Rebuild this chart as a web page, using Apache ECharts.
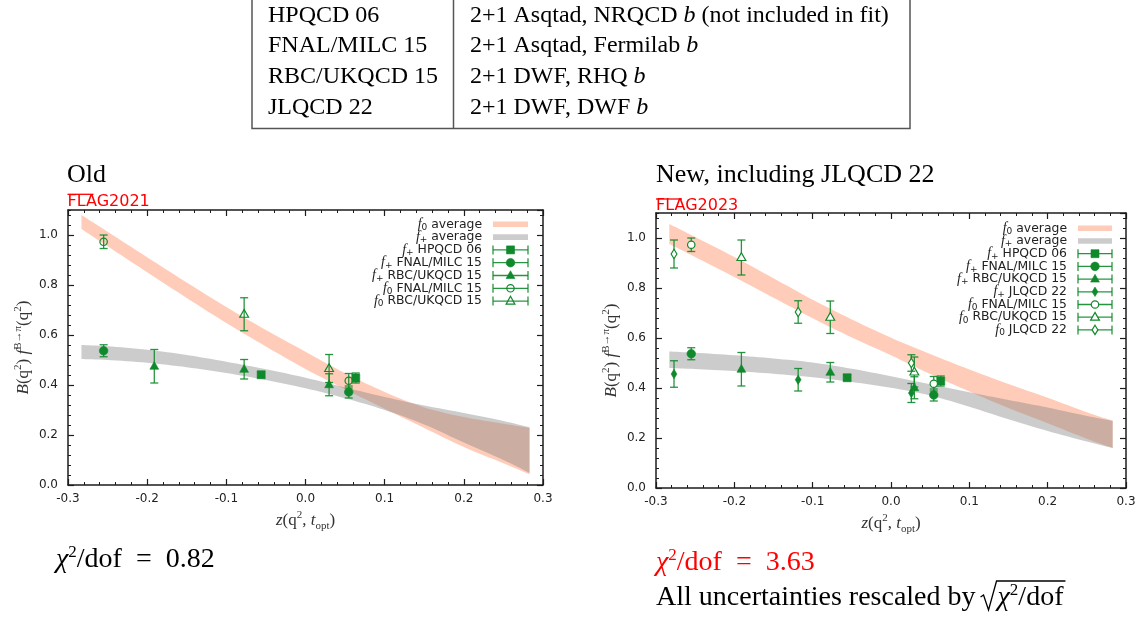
<!DOCTYPE html>
<html>
<head>
<meta charset="utf-8">
<script src="https://cdn.jsdelivr.net/npm/echarts@6/dist/echarts.min.js"></script>
<style>
  html, body { margin: 0; padding: 0; background: #fff; }
  #chart { width: 1144px; height: 619px; }
</style>
</head>
<body>
<div id="chart"></div>
<script>
// ---- z positions of the lattice data points ----
const zHpqcd = [-0.056, 0.0635];
const zFnal = [-0.255, 0.0546];
const zRbc = [-0.191, -0.0775, 0.0298];
const zRbcF0Old = [-0.0775, 0.0298];
const zJlqcd = [-0.277, -0.1185, 0.026];

// ---- f+ form factor points (value, error) ----
const fpHpqcd = [0.441, 0.428];
const fpHpqcdErr = [0.011, 0.020];
const fpFnal = [0.537, 0.372];
const fpFnalErr = [0.024, 0.024];
const fpRbc = [0.475, 0.463, 0.401];
const fpRbcErr = [0.067, 0.039, 0.044];
const fpJlqcd = [0.456, 0.433, 0.380];
const fpJlqcdErr = [0.053, 0.045, 0.038];

// ---- f0 form factor points (value, error) ----
const f0Fnal = [0.973, 0.417];
const f0FnalErr = [0.027, 0.029];
const f0RbcOld = [0.683, 0.466];
const f0RbcOldErr = [0.066, 0.056];
const f0Rbc = [0.922, 0.683, 0.464];
const f0RbcErr = [0.070, 0.065, 0.060];
const f0Jlqcd = [0.936, 0.704, 0.500];
const f0JlqcdErr = [0.056, 0.045, 0.033];

// ---- averaged bands (lower / upper edge at each bandZ) ----
const bandZ = [-0.283, -0.25, -0.2, -0.15, -0.1, -0.05, 0, 0.05, 0.1, 0.15, 0.2, 0.25, 0.283];
const oldF0Lo = [1.024, 0.955, 0.851, 0.748, 0.648, 0.554, 0.464, 0.383, 0.305, 0.228, 0.152, 0.087, 0.043];
const oldF0Hi = [1.080, 1.013, 0.911, 0.810, 0.712, 0.620, 0.533, 0.447, 0.372, 0.310, 0.272, 0.245, 0.228];
const oldFpLo = [0.504, 0.500, 0.489, 0.471, 0.448, 0.420, 0.387, 0.347, 0.300, 0.242, 0.170, 0.100, 0.048];
const oldFpHi = [0.560, 0.555, 0.541, 0.520, 0.493, 0.463, 0.429, 0.390, 0.352, 0.318, 0.288, 0.256, 0.231];
const newF0Lo = [0.976, 0.924, 0.844, 0.761, 0.679, 0.602, 0.531, 0.456, 0.386, 0.320, 0.259, 0.197, 0.160];
const newF0Hi = [1.056, 1.004, 0.924, 0.839, 0.753, 0.674, 0.601, 0.536, 0.474, 0.416, 0.361, 0.303, 0.269];
const newFpLo = [0.480, 0.476, 0.468, 0.457, 0.443, 0.424, 0.401, 0.370, 0.325, 0.275, 0.228, 0.186, 0.160];
const newFpHi = [0.546, 0.541, 0.531, 0.518, 0.502, 0.477, 0.447, 0.415, 0.383, 0.352, 0.322, 0.288, 0.269];

// ---- text ----
const tableLeft = ['HPQCD 06', 'FNAL/MILC 15', 'RBC/UKQCD 15', 'JLQCD 22'];
const tableRight = [
  '2+1 Asqtad, NRQCD {i|b} (not included in fit)',
  '2+1 Asqtad, Fermilab {i|b}',
  '2+1 DWF, RHQ {i|b}',
  '2+1 DWF, DWF {i|b}'
];
const xTickFmt = v => (Math.abs(v) < 1e-9 ? '0.0' : v.toFixed(1));

// ---- styling ----
const GREEN = '#0f892b';
const BAR = 'rgba(15,137,43,0.9)';
const F0_FILL = 'rgba(255,127,80,0.4)';
const FP_FILL = 'rgba(128,128,128,0.4)';
const AXIS = '#1c1c1c';
const TXT = '#222';
const SERIF = '"Liberation Serif", "Times New Roman", serif';
const SANS = '"DejaVu Sans", sans-serif';

const chart = echarts.init(document.getElementById('chart'), null, { renderer: 'canvas' });

function measure(text, font) {
  if (!measure.ctx) measure.ctx = document.createElement('canvas').getContext('2d');
  measure.ctx.font = font;
  return measure.ctx.measureText(text).width;
}

// smooth pixel-space curve through the projected edge points (Catmull-Rom)
function smoothEdge(pts, steps) {
  const out = [];
  const n = pts.length;
  for (let i = 0; i < n - 1; i++) {
    const p0 = pts[Math.max(i - 1, 0)], p1 = pts[i], p2 = pts[i + 1], p3 = pts[Math.min(i + 2, n - 1)];
    for (let s = 0; s < steps; s++) {
      const t = s / steps, t2 = t * t, t3 = t2 * t;
      const c = k => 0.5 * (2 * p1[k] + (p2[k] - p0[k]) * t + (2 * p0[k] - 5 * p1[k] + 4 * p2[k] - p3[k]) * t2 +
        (3 * p1[k] - p0[k] - 3 * p2[k] + p3[k]) * t3);
      out.push([c(0), c(1)]);
    }
  }
  out.push(pts[n - 1]);
  return out;
}

// marker glyph centred at (cx, cy); open markers get an outline only
function markerShape(kind, open, cx, cy, openFill) {
  const style = open
    ? { fill: openFill, stroke: GREEN, lineWidth: 1.2 }
    : { fill: GREEN, stroke: GREEN, lineWidth: 0.6 };
  if (kind === 'circle') return { type: 'circle', shape: { cx, cy, r: open ? 3.7 : 4.3 }, style };
  if (kind === 'square') return { type: 'rect', shape: { x: cx - 4, y: cy - 4, width: 8, height: 8 }, style };
  if (kind === 'triangle') return { type: 'polygon', shape: { points: [[cx, cy - 4.8], [cx + 4.4, cy + 3], [cx - 4.4, cy + 3]] }, style };
  return { type: 'polygon', shape: { points: [[cx, cy - 4.7], [cx + 2.9, cy], [cx, cy + 4.7], [cx - 2.9, cy]] }, style };
}

// ---- axes: major + minor tick axes on all four sides of each grid ----
const grids = [
  { left: 68, top: 210, width: 475, height: 275, outerBoundsMode: 'none' },
  { left: 656, top: 213, width: 470, height: 275, outerBoundsMode: 'none' }
];
const xAxes = [], yAxes = [];
const nameRich = {
  i: { fontFamily: SERIF, fontStyle: 'italic', fontSize: 17, lineHeight: 22, color: '#333' },
  sup: { fontFamily: SERIF, fontSize: 11, lineHeight: 12, verticalAlign: 'top', color: '#333' },
  sub: { fontFamily: SERIF, fontSize: 11, lineHeight: 12, verticalAlign: 'bottom', color: '#333' }
};
grids.forEach((g, gi) => {
  const common = { gridIndex: gi, type: 'value', splitLine: { show: false }, axisPointer: { show: false } };
  const line = { show: true, onZero: false, lineStyle: { color: AXIS, width: 1.5 } };
  const noLine = { show: false, onZero: false };
  const major = { show: true, inside: true, length: 6, lineStyle: { color: AXIS, width: 1.2 } };
  const minor = { show: true, inside: true, length: 3, lineStyle: { color: AXIS, width: 1 } };
  ['bottom', 'top'].forEach((pos, k) => {
    const ax = { ...common, min: -0.3, max: 0.3, interval: 0.1, position: pos, axisLine: line, axisTick: major,
      axisLabel: { show: false } };
    if (k === 0) {
      ax.axisLabel = { show: true, color: TXT, fontFamily: SANS, fontSize: 12, margin: 8, formatter: xTickFmt,
        showMinLabel: true, showMaxLabel: true };
      ax.name = '{i|z}(q{sup|2}, {i|t}{sub|opt})';
      ax.nameLocation = 'middle';
      ax.nameGap = 25;
      ax.nameTextStyle = { color: '#333', fontFamily: SERIF, fontSize: 17, lineHeight: 22, rich: nameRich };
    }
    xAxes.push(ax);
    xAxes.push({ ...common, min: -0.3, max: 0.3, interval: 0.02, position: pos, axisLine: noLine, axisTick: minor,
      axisLabel: { show: false } });
  });
  ['left', 'right'].forEach((pos, k) => {
    const ax = { ...common, min: 0, max: 1.1, interval: 0.2, position: pos, axisLine: line, axisTick: major,
      axisLabel: { show: false } };
    if (k === 0) {
      ax.axisLabel = { show: true, color: TXT, fontFamily: SANS, fontSize: 12, margin: 10,
        formatter: v => v.toFixed(1), showMaxLabel: false };
      ax.name = '{i|B}(q{sup|2}) {i|f}{sup|B→π}(q{sup|2})';
      ax.nameLocation = 'middle';
      ax.nameRotate = 90;
      ax.nameGap = 24;
      ax.nameTextStyle = { color: '#333', fontFamily: SERIF, fontSize: 17, lineHeight: 22, rich: nameRich };
    }
    yAxes.push(ax);
    yAxes.push({ ...common, min: 0, max: 1.1, interval: 0.04, position: pos, axisLine: noLine, axisTick: minor,
      axisLabel: { show: false } });
  });
});

// ---- series builders ----
function bandSeries(gi, lo, hi, color, z) {
  return {
    type: 'custom', xAxisIndex: gi * 4, yAxisIndex: gi * 4, silent: true, clip: true, z,
    data: [[0, 0]], encode: { x: 0, y: 1 },
    renderItem(params, api) {
      const top = smoothEdge(bandZ.map((zz, i) => api.coord([zz, hi[i]])), 8);
      const bottom = smoothEdge(bandZ.map((zz, i) => api.coord([zz, lo[i]])), 8).reverse();
      return { type: 'polygon', shape: { points: top.concat(bottom) }, style: { fill: color } };
    }
  };
}

function errSeries(gi, zs, ys, es, kind, open, openFill) {
  return {
    type: 'custom', xAxisIndex: gi * 4, yAxisIndex: gi * 4, silent: true, clip: false, z: 5,
    data: zs.map((zz, i) => [zz, ys[i], ys[i] - es[i], ys[i] + es[i]]),
    encode: { x: 0, y: [1, 2, 3] },
    renderItem(params, api) {
      const x = api.value(0);
      const p = api.coord([x, api.value(1)]);
      const lo = api.coord([x, api.value(2)]);
      const hi = api.coord([x, api.value(3)]);
      const w = 4;
      const ls = { stroke: BAR, lineWidth: 1.3 };
      return {
        type: 'group', children: [
          { type: 'line', shape: { x1: p[0], y1: lo[1], x2: p[0], y2: hi[1] }, style: ls },
          { type: 'line', shape: { x1: p[0] - w, y1: lo[1], x2: p[0] + w, y2: lo[1] }, style: ls },
          { type: 'line', shape: { x1: p[0] - w, y1: hi[1], x2: p[0] + w, y2: hi[1] }, style: ls },
          markerShape(kind, open, p[0], p[1], openFill)
        ]
      };
    }
  };
}

// data sets per panel: [form factor, label, z, values, errors, marker, open]
const oldSets = [
  ['+', 'HPQCD 06', zHpqcd, fpHpqcd, fpHpqcdErr, 'square', false],
  ['+', 'FNAL/MILC 15', zFnal, fpFnal, fpFnalErr, 'circle', false],
  ['+', 'RBC/UKQCD 15', zRbc, fpRbc, fpRbcErr, 'triangle', false],
  ['0', 'FNAL/MILC 15', zFnal, f0Fnal, f0FnalErr, 'circle', true],
  ['0', 'RBC/UKQCD 15', zRbcF0Old, f0RbcOld, f0RbcOldErr, 'triangle', true]
];
const newSets = [
  ['+', 'HPQCD 06', zHpqcd, fpHpqcd, fpHpqcdErr, 'square', false],
  ['+', 'FNAL/MILC 15', zFnal, fpFnal, fpFnalErr, 'circle', false],
  ['+', 'RBC/UKQCD 15', zRbc, fpRbc, fpRbcErr, 'triangle', false],
  ['+', 'JLQCD 22', zJlqcd, fpJlqcd, fpJlqcdErr, 'diamond', false],
  ['0', 'FNAL/MILC 15', zFnal, f0Fnal, f0FnalErr, 'circle', true],
  ['0', 'RBC/UKQCD 15', zRbc, f0Rbc, f0RbcErr, 'triangle', true],
  ['0', 'JLQCD 22', zJlqcd, f0Jlqcd, f0JlqcdErr, 'diamond', true]
];
const panels = [
  { sets: oldSets, f0Lo: oldF0Lo, f0Hi: oldF0Hi, fpLo: oldFpLo, fpHi: oldFpHi, openFill: 'none',
    legend: { y0: 224.3, dy: 12.8, textRight: 482, x0: 493, x1: 528 } },
  { sets: newSets, f0Lo: newF0Lo, f0Hi: newF0Hi, fpLo: newFpLo, fpHi: newFpHi, openFill: '#fff',
    legend: { y0: 228.3, dy: 12.7, textRight: 1067, x0: 1078, x1: 1112 } }
];

const series = [];
panels.forEach((pn, gi) => {
  series.push(bandSeries(gi, pn.f0Lo, pn.f0Hi, F0_FILL, 2));
  series.push(bandSeries(gi, pn.fpLo, pn.fpHi, FP_FILL, 3));
  pn.sets.forEach(s => series.push(errSeries(gi, s[2], s[3], s[4], s[5], s[6], pn.openFill)));
});

// ---- drawn legend, text on the left of each sample ----
const legRich = {
  f: { font: `italic 14px ${SERIF}`, lineHeight: 15 },
  s: { font: `9px ${SANS}`, verticalAlign: 'bottom', lineHeight: 10 }
};
const graphics = [];
panels.forEach(pn => {
  const L = pn.legend;
  const rows = [
    { lab: '{f|f}{s|0} average', band: F0_FILL },
    { lab: '{f|f}{s|+} average', band: FP_FILL }
  ].concat(pn.sets.map(s => ({ lab: `{f|f}{s|${s[0]}} ${s[1]}`, mk: s[5], open: s[6] })));
  rows.forEach((r, i) => {
    const y = L.y0 + i * L.dy;
    graphics.push({ type: 'text', x: L.textRight, y, silent: true,
      style: { text: r.lab, font: `12.4px ${SANS}`, fill: TXT, align: 'right', verticalAlign: 'middle', rich: legRich } });
    if (r.band) {
      graphics.push({ type: 'rect', silent: true, shape: { x: L.x0, y: y - 2.8, width: L.x1 - L.x0, height: 5.6 },
        style: { fill: r.band } });
    } else {
      const ls = { stroke: BAR, lineWidth: 1.3 };
      graphics.push({ type: 'line', silent: true, shape: { x1: L.x0, y1: y, x2: L.x1, y2: y }, style: ls });
      graphics.push({ type: 'line', silent: true, shape: { x1: L.x0, y1: y - 4.5, x2: L.x0, y2: y + 4.5 }, style: ls });
      graphics.push({ type: 'line', silent: true, shape: { x1: L.x1, y1: y - 4.5, x2: L.x1, y2: y + 4.5 }, style: ls });
      const m = markerShape(r.mk, r.open, (L.x0 + L.x1) / 2, y, pn.openFill);
      m.silent = true;
      graphics.push(m);
    }
  });
});

// ---- panel titles and FLAG tags ----
graphics.push({ type: 'text', x: 67, y: 175, silent: true,
  style: { text: 'Old', font: `26px ${SERIF}`, fill: '#000', verticalAlign: 'middle' } });
graphics.push({ type: 'text', x: 656, y: 175, silent: true,
  style: { text: 'New, including JLQCD 22', font: `26px ${SERIF}`, fill: '#000', verticalAlign: 'middle' } });
[[67.5, 201.5, 194.3, 'FLAG2021'], [656, 206, 199, 'FLAG2023']].forEach(([x, y, yl, t]) => {
  graphics.push({ type: 'text', x, y, silent: true,
    style: { text: t, font: `16px ${SANS}`, fill: '#ff0000', verticalAlign: 'middle' } });
  graphics.push({ type: 'line', silent: true, shape: { x1: x, y1: yl, x2: x + 26, y2: yl },
    style: { stroke: '#ff0000', lineWidth: 1.3 } });
});

// ---- lattice table ----
const tableLine = { stroke: '#555', lineWidth: 1.5 };
graphics.push({ type: 'polyline', silent: true, shape: { points: [[252, 0], [252, 128.5], [910, 128.5], [910, 0]] },
  style: { ...tableLine, fill: null } });
graphics.push({ type: 'line', silent: true, shape: { x1: 453.5, y1: 0, x2: 453.5, y2: 128.5 }, style: tableLine });
const rowMid = [15.5, 46, 76.5, 107.5];
tableLeft.forEach((t, i) => {
  graphics.push({ type: 'text', x: 268, y: rowMid[i], silent: true,
    style: { text: t, font: `24px ${SERIF}`, fill: '#000', verticalAlign: 'middle' } });
  graphics.push({ type: 'text', x: 470, y: rowMid[i], silent: true,
    style: { text: tableRight[i], font: `24px ${SERIF}`, fill: '#000', verticalAlign: 'middle',
      rich: { i: { font: `italic 24px ${SERIF}` } } } });
});

// ---- fit quality notes ----
const FS = 28;
const chiRich = {
  i: { font: `italic ${FS}px ${SERIF}`, lineHeight: 32 },
  sup: { font: `17px ${SERIF}`, verticalAlign: 'top', lineHeight: 18 }
};
const eq = '\u2002=\u2002';
graphics.push({ type: 'text', x: 56, y: 560, silent: true,
  style: { text: `{i|χ}{sup|2}/dof${eq}0.82`, font: `${FS}px ${SERIF}`, lineHeight: 32, fill: '#000', verticalAlign: 'middle', rich: chiRich } });
graphics.push({ type: 'text', x: 656, y: 563, silent: true,
  style: { text: `{i|χ}{sup|2}/dof${eq}3.63`, font: `${FS}px ${SERIF}`, lineHeight: 32, fill: '#ff0000', verticalAlign: 'middle', rich: chiRich } });
const lead = 'All uncertainties rescaled by ';
const leadW = measure(lead, `${FS}px ${SERIF}`);
graphics.push({ type: 'text', x: 656, y: 598, silent: true,
  style: { text: lead, font: `${FS}px ${SERIF}`, fill: '#000', verticalAlign: 'middle' } });
const xr = 656 + leadW - 2;
const xs = xr + 17;
const radW = measure('χ', `italic ${FS}px ${SERIF}`) + measure('2', `17px ${SERIF}`) + measure('/dof', `${FS}px ${SERIF}`);
graphics.push({ type: 'text', x: xs, y: 598, silent: true,
  style: { text: '{i|χ}{sup|2}/dof', font: `${FS}px ${SERIF}`, lineHeight: 32, fill: '#000', verticalAlign: 'middle', rich: chiRich } });
graphics.push({ type: 'polyline', silent: true,
  shape: { points: [[xr, 597], [xr + 3, 595], [xr + 8, 610], [xr + 16, 581], [xs + radW + 2, 581]] },
  style: { stroke: '#000', lineWidth: 1.3, fill: null } });

chart.setOption({
  animation: false,
  backgroundColor: '#fff',
  grid: grids,
  xAxis: xAxes,
  yAxis: yAxes,
  series,
  graphic: { elements: graphics }
});
</script>
</body>
</html>
